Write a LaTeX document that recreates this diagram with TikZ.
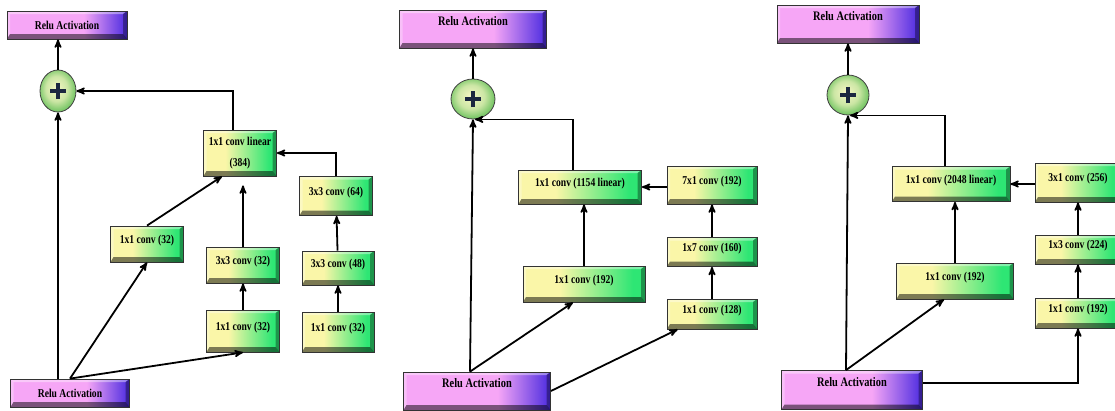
\documentclass[tikz,border=0pt]{standalone}
\usepackage{fontspec}
\newfontfamily\boxfont{Liberation Serif}[FakeStretch=0.8]
\usepackage{xcolor}
\usepackage{tikz}
\usetikzlibrary{arrows, shapes.geometric}

\definecolor{convyellow}{HTML}{FAF6A8}
\definecolor{convgreen}{HTML}{2EE674}
\definecolor{relupink}{HTML}{F6A6F6}
\definecolor{relupurple}{HTML}{4A2AE0}
\definecolor{plusyellow}{HTML}{F6F6C4}
\definecolor{plusgreen}{HTML}{7CC86A}
\definecolor{plusnavy}{HTML}{1B2740}

\pgfdeclarehorizontalshading{convshade}{100bp}{color(0bp)=(convyellow); color(40bp)=(convyellow); color(70bp)=(convgreen); color(100bp)=(convgreen)}
\pgfdeclarehorizontalshading{relushade}{100bp}{color(0bp)=(relupink); color(57bp)=(relupink); color(75bp)=(relupurple); color(100bp)=(relupurple)}
\pgfdeclareradialshading{plusshade}{\pgfpoint{-3bp}{4bp}}{color(0bp)=(plusyellow); color(15bp)=(plusyellow!65!plusgreen); color(25bp)=(plusgreen); color(50bp)=(plusgreen!80!black)}

% raised button look
\tikzset{bevel/.style={path picture={
  \fill[white,opacity=.4] (path picture bounding box.north west) -- (path picture bounding box.north east)
    -- ([shift={(-4pt,-3pt)}]path picture bounding box.north east) -- ([shift={(3pt,-3pt)}]path picture bounding box.north west) -- cycle;
  \fill[white,opacity=.3] (path picture bounding box.north west) -- ([shift={(3pt,-3pt)}]path picture bounding box.north west)
    -- ([shift={(3pt,5pt)}]path picture bounding box.south west) -- (path picture bounding box.south west) -- cycle;
  \fill[black,opacity=.5] (path picture bounding box.south west) -- (path picture bounding box.south east)
    -- ([shift={(-4pt,5pt)}]path picture bounding box.south east) -- ([shift={(3pt,5pt)}]path picture bounding box.south west) -- cycle;
  \fill[black,opacity=.35] (path picture bounding box.north east) -- (path picture bounding box.south east)
    -- ([shift={(-4pt,5pt)}]path picture bounding box.south east) -- ([shift={(-4pt,-3pt)}]path picture bounding box.north east) -- cycle;
}}}

\begin{document}
\begin{tikzpicture}[->, >=stealth', line width=1.8pt, x=1pt, y=-1pt,
  dims/.style 2 args={minimum width=#1pt, minimum height=#2pt},
  conv/.style={rectangle, draw=black!80, line width=0.8pt, shading=convshade, bevel, inner sep=1pt,
    align=center, text depth=10pt, font=\boxfont\bfseries\fontsize{12}{21}\selectfont},
  relu/.style={rectangle, draw=black!80, line width=0.8pt, shading=relushade, bevel, inner sep=1pt,
    font=\boxfont\bfseries\fontsize{12}{14}\selectfont},
  relubig/.style={relu, text depth=16pt, font=\boxfont\bfseries\fontsize{13}{15}\selectfont},
  plus/.style={ellipse, draw=black!75, line width=0.8pt, inner sep=0pt, shading=plusshade,
    path picture={\draw[-, line width=4.5pt, plusnavy]
      ([xshift=-8pt]path picture bounding box.center) -- ([xshift=8pt]path picture bounding box.center)
      ([yshift=-8pt]path picture bounding box.center) -- ([yshift=8pt]path picture bounding box.center);}}]

\useasboundingbox (0,0) rectangle (1115,410);
\begin{scope}
\clip (0,0) rectangle (1115,410);

% block A
\node[relu, dims={120}{28}] at (67,25) (reluTopA) {Relu Activation};
\node[plus, dims={36}{42}] at (58,91) (plusA) {};
\node[conv, dims={73}{46}, text depth=3pt] at (240,153) (linA) {1x1 conv linear\\(384)};
\node[conv, dims={73}{39}] at (336,196) (c64A) {3x3 conv (64)};
\node[conv, dims={73}{36}] at (147,244) (c32aA) {1x1 conv (32)};
\node[conv, dims={73}{36}] at (243,265) (c33A) {3x3 conv (32)};
\node[conv, dims={73}{42}] at (243,331) (c11A) {1x1 conv (32)};
\node[conv, dims={72}{34}] at (338,268) (c48A) {3x3 conv (48)};
\node[conv, dims={72}{40}] at (338,332) (c11bA) {1x1 conv (32)};
\node[relu, dims={119}{28}] at (70,393) (reluBotA) {Relu Activation};
\draw (plusA) -- (plusA |- reluTopA.south);
\draw (plusA |- reluBotA.north) -- (plusA.south);
\draw ([xshift=-7pt]linA.north) |- (plusA.east);
\draw (c64A.north) |- (linA.east);
\draw (c32aA.north) -- ([xshift=-18pt]linA.south);
\draw[shorten >=9pt] (c33A.north) -- (c33A.north |- linA.south);
\draw (c11A) edge (c33A);
\draw (c11bA) edge (c48A) (c48A) edge (c64A);
\draw (reluBotA.north) -- (c32aA.south);
\draw (reluBotA.north) -- (c11A.south);

% block B
\node[relubig, dims={147}{38}] at (473,29) (reluTopB) {Relu Activation};
\node[plus, dims={44}{40}] at (473,99) (plusB) {};
\node[conv, dims={123}{34}] at (580,187) (linB) {1x1 conv (1154 linear)};
\node[conv, dims={90}{38}] at (712,185) (c7x1B) {7x1 conv (192)};
\node[conv, dims={90}{29}] at (712,252) (c1x7B) {1x7 conv (160)};
\node[conv, dims={90}{30}] at (712,314) (c128B) {1x1 conv (128)};
\node[conv, dims={122}{36}] at (584,284) (c192B) {1x1 conv (192)};
\node[relubig, dims={147}{38}] at (477,391) (reluBotB) {Relu Activation};
\draw (plusB) -- (plusB |- reluTopB.south);
\draw ([xshift=-7pt]reluBotB.north) -- (plusB.south);
\draw ([xshift=-7pt]linB.north) |- ([xshift=2pt]plusB.south);
\draw (c7x1B.west |- linB.east) -- (linB.east);
\draw (c192B.north) -- (c192B.north |- linB.south);
\draw (c128B) edge (c1x7B) (c1x7B) edge (c7x1B);
\draw ([xshift=-7pt]reluBotB.north) -- ([xshift=-11pt]c192B.south);
\draw (reluBotB.east) -- ([xshift=11pt]c128B.south west);

% block C
\node[relubig, dims={142}{38}] at (848,24) (reluTopC) {Relu Activation};
\node[plus, dims={42}{40}] at (848,95) (plusC) {};
\node[conv, dims={118}{35}] at (951,184) (linC) {1x1 conv (2048 linear)};
\node[conv, dims={86}{39}] at (1078,182.5) (c256C) {3x1 conv (256)};
\node[conv, dims={86}{29}] at (1078,249.5) (c224C) {1x3 conv (224)};
\node[conv, dims={86}{30}] at (1078,313) (c192rC) {1x1 conv (192)};
\node[conv, dims={117}{36}] at (955,281) (c192C) {1x1 conv (192)};
\node[relubig, dims={141}{39}] at (852,390) (reluBotC) {Relu Activation};
\draw (plusC) -- (plusC |- reluTopC.south);
\draw ([xshift=-6pt]reluBotC.north) -- (plusC.south);
\draw ([xshift=-6pt]linC.north) |- ([xshift=2pt]plusC.south);
\draw (c256C.west |- linC.east) -- (linC.east);
\draw (c192C.north) -- (c192C.north |- linC.south);
\draw (c192rC) edge (c224C) (c224C) edge (c256C);
\draw ([xshift=-6pt]reluBotC.north) -- ([xshift=-11pt]c192C.south);
\draw ([yshift=7pt]reluBotC.east) -| (c192rC.south);
\end{scope}
\end{tikzpicture}
\end{document}
